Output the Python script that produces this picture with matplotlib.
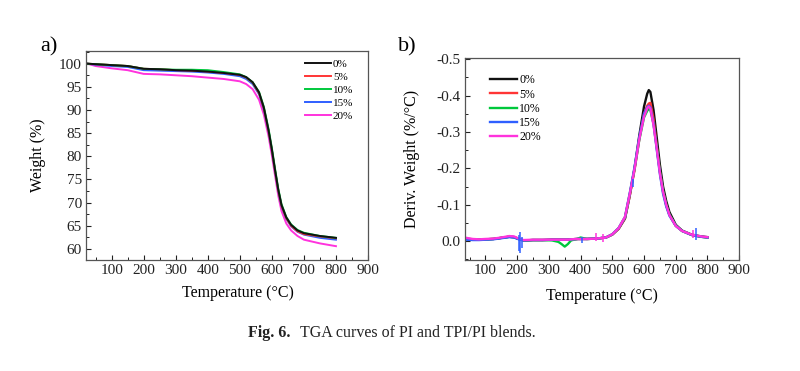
import matplotlib
matplotlib.use("Agg")
import matplotlib.pyplot as plt
from matplotlib.ticker import MultipleLocator, AutoMinorLocator

plt.rcParams['font.family'] = ['Liberation Serif', 'DejaVu Serif']
plt.rcParams['axes.unicode_minus'] = False

labels = ['0%', '5%', '10%', '15%', '20%']
colors = ['#111111', '#ff3535', '#00c83c', '#2f5fff', '#ff33dd']

# a) TGA weight curves
T_tga = [25, 50, 100, 150, 200, 250, 300, 350, 400, 450, 500, 520, 540,
         560, 575, 590, 600, 610, 620, 630, 645, 660, 680, 700, 750, 800]
w_0 = [100.0, 99.9, 99.7, 99.5, 98.9, 98.8, 98.6, 98.5, 98.3, 98.0, 97.6, 97.1, 96.0,
       93.8, 90.5, 85.5, 81.5, 77.0, 72.8, 69.5, 66.8, 65.2, 64.0, 63.4, 62.8, 62.4]
w_5 = [100.0, 99.9, 99.7, 99.5, 98.9, 98.8, 98.6, 98.5, 98.3, 98.0, 97.6, 97.0, 95.9,
       93.6, 90.3, 85.3, 81.3, 76.8, 72.6, 69.3, 66.6, 65.0, 63.8, 63.2, 62.7, 62.3]
w_10 = [100.0, 99.9, 99.7, 99.5, 98.9, 98.8, 98.7, 98.7, 98.6, 98.2, 97.7, 97.1, 96.0,
        93.9, 90.7, 85.8, 81.8, 77.3, 73.0, 69.7, 66.9, 65.3, 64.1, 63.5, 62.8, 62.4]
w_15 = [100.0, 99.8, 99.5, 99.3, 98.6, 98.5, 98.4, 98.3, 98.1, 97.8, 97.3, 96.7, 95.6,
        93.4, 90.1, 85.2, 81.2, 76.7, 72.5, 69.2, 66.5, 64.9, 63.7, 63.1, 62.4, 62.0]
w_20 = [100.0, 99.5, 99.0, 98.6, 97.8, 97.7, 97.5, 97.3, 97.0, 96.7, 96.2, 95.6, 94.5,
        92.2, 89.0, 84.2, 80.2, 75.8, 71.5, 68.2, 65.5, 64.0, 62.8, 62.0, 61.2, 60.6]

# b) DTG derivative curves
T_dtg = [40, 60, 80, 100, 125, 150, 175, 190, 205, 220, 250, 280, 310, 330, 340, 350,
         360, 370, 390, 400, 420, 450, 480, 500, 520, 540, 555, 570, 585, 600, 610, 615,
         620, 630, 640, 650, 660, 670, 680, 700, 720, 750, 780, 800]
d_0 = [-0.006, -0.004, -0.004, -0.005, -0.006, -0.009, -0.012, -0.011, -0.006, -0.002,
       -0.003, -0.003, -0.004, -0.004, -0.004, -0.004, -0.004, -0.005, -0.006, -0.006,
       -0.006, -0.007, -0.010, -0.018, -0.034, -0.062, -0.125, -0.200, -0.290, -0.370,
       -0.405, -0.415, -0.410, -0.360, -0.285, -0.210, -0.150, -0.110, -0.080, -0.045,
       -0.029, -0.018, -0.013, -0.011]
d_5 = [-0.007, -0.005, -0.004, -0.005, -0.006, -0.009, -0.012, -0.011, -0.006, -0.002,
       -0.003, -0.003, -0.004, -0.004, -0.004, -0.004, -0.004, -0.005, -0.006, -0.006,
       -0.006, -0.007, -0.010, -0.018, -0.034, -0.063, -0.125, -0.195, -0.280, -0.350,
       -0.372, -0.378, -0.380, -0.335, -0.262, -0.190, -0.135, -0.098, -0.072, -0.042,
       -0.028, -0.017, -0.012, -0.010]
d_10 = [-0.006, -0.005, -0.004, -0.005, -0.006, -0.009, -0.012, -0.011, -0.006, -0.002,
        -0.003, -0.003, -0.002, 0.002, 0.008, 0.015, 0.008, -0.002, -0.006, -0.010,
        -0.006, -0.007, -0.010, -0.019, -0.036, -0.066, -0.130, -0.198, -0.278, -0.340,
        -0.358, -0.363, -0.360, -0.322, -0.258, -0.192, -0.138, -0.100, -0.073, -0.043,
        -0.028, -0.017, -0.012, -0.010]
d_15 = [-0.004, -0.003, -0.003, -0.004, -0.005, -0.008, -0.011, -0.010, -0.005, -0.002,
        -0.003, -0.003, -0.004, -0.004, -0.004, -0.004, -0.004, -0.005, -0.006, -0.006,
        -0.006, -0.007, -0.010, -0.019, -0.036, -0.066, -0.132, -0.203, -0.285, -0.350,
        -0.368, -0.372, -0.368, -0.322, -0.252, -0.184, -0.130, -0.095, -0.070, -0.042,
        -0.028, -0.017, -0.012, -0.010]
d_20 = [-0.009, -0.006, -0.005, -0.006, -0.007, -0.010, -0.014, -0.013, -0.007, -0.003,
        -0.004, -0.004, -0.004, -0.004, -0.004, -0.004, -0.004, -0.005, -0.006, -0.006,
        -0.006, -0.007, -0.010, -0.019, -0.036, -0.067, -0.130, -0.198, -0.280, -0.342,
        -0.365, -0.370, -0.365, -0.318, -0.255, -0.188, -0.136, -0.100, -0.072, -0.042,
        -0.028, -0.018, -0.013, -0.011]

# short noise spikes seen on the DTG traces (temperature, low, high, series index)
spike_T = [206, 210, 214, 405, 450, 470, 565, 755, 765]
spike_lo = [-0.018, -0.025, -0.012, -0.012, -0.022, -0.020, -0.170, -0.030, -0.036]
spike_hi = [0.028, 0.033, 0.020, 0.004, 0.000, 0.001, -0.150, -0.010, -0.004]
spike_series = [3, 3, 3, 3, 4, 4, 3, 4, 3]

tga = [w_0, w_5, w_10, w_15, w_20]
dtg = [d_0, d_5, d_10, d_15, d_20]

fig = plt.figure(figsize=(8, 3.71), dpi=100)
ax1 = fig.add_axes([0.1075, 0.299, 0.3525, 0.563])
ax2 = fig.add_axes([0.581, 0.299, 0.343, 0.5445])

lines = {}
for i in [4, 3, 1, 2, 0]:
    lines[i], = ax1.plot(T_tga, tga[i], color=colors[i], lw=1.4, label=labels[i])
ax1.set_xlim(20, 900)
ax1.set_ylim(57.6, 102.7)
ax1.yaxis.set_major_locator(MultipleLocator(5))
ax1.set_xticks(range(100, 1000, 100))
ax1.set_ylabel('Weight (%)', fontsize=11.5)
ax1.yaxis.set_label_coords(-0.142, 0.5)
ax1.legend([lines[i] for i in range(5)], labels, frameon=False, fontsize=8,
           loc='upper left', bbox_to_anchor=(0.75, 1.0), handlelength=2.3,
           handletextpad=0.2, labelspacing=0.3, borderaxespad=0.3)

for i in range(5):
    ax2.plot(T_dtg, dtg[i], color=colors[i], lw=1.7, label=labels[i])
for t, lo, hi, s in zip(spike_T, spike_lo, spike_hi, spike_series):
    ax2.vlines(t, lo, hi, color=colors[s], lw=1.1)
ax2.set_xlim(35, 900)
ax2.set_ylim(0.052, -0.503)
ax2.set_xticks(range(100, 1000, 100))
ax2.yaxis.set_major_locator(MultipleLocator(0.1))
ax2.yaxis.set_major_formatter(plt.FuncFormatter(lambda v, p: '%.1f' % v if abs(v) > 1e-9 else '0.0'))
ax2.set_ylabel('Deriv. Weight (%/°C)', fontsize=11.5)
ax2.yaxis.set_label_coords(-0.163, 0.5)
ax2.legend(frameon=False, fontsize=8.5, loc='upper left', bbox_to_anchor=(0.06, 0.96),
           handlelength=2.3, handletextpad=0.2, labelspacing=0.18, borderaxespad=0.3)

for ax in (ax1, ax2):
    ax.set_xlabel('Temperature (°C)', fontsize=11.5, labelpad=8)
    ax.xaxis.set_minor_locator(AutoMinorLocator(2))
    ax.yaxis.set_minor_locator(AutoMinorLocator(2))
    ax.tick_params(which='both', direction='in', top=False, right=False,
                   labelsize=11, colors='#222222', pad=3)
    ax.tick_params(which='major', length=3.5, width=0.8)
    ax.tick_params(which='minor', length=2, width=0.7)
    for sp in ax.spines.values():
        sp.set_color('#555555')
        sp.set_linewidth(0.9)
ax1.xaxis.set_label_coords(0.54, -0.12)

fig.text(40 / 800, 1 - 47 / 371, 'a)', fontsize=16, va='center', ha='left')
fig.text(398 / 800, 1 - 47 / 371, 'b)', fontsize=16, va='center', ha='left')

fig.text(248 / 800, 1 - 333 / 371, 'Fig. 6.', fontsize=11.5, fontweight='bold',
         va='center', ha='left', color='#222222')
fig.text(300 / 800, 1 - 333 / 371, 'TGA curves of PI and TPI/PI blends.', fontsize=11.5,
         va='center', ha='left', color='#222222')

fig.savefig('out.png', dpi=100)
